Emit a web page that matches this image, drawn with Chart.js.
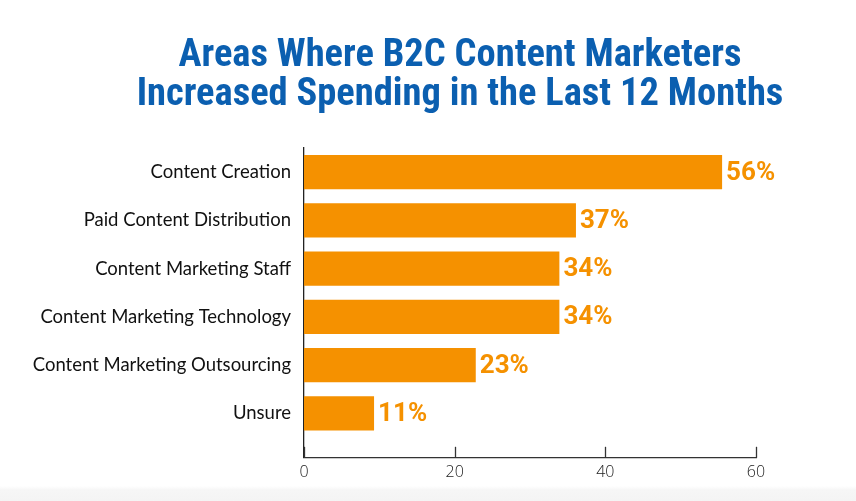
<!DOCTYPE html>
<html>
<head>
<meta charset="utf-8">
<script src="https://cdn.jsdelivr.net/npm/chart.js@4/dist/chart.umd.min.js"></script>
<style>
  html, body { margin: 0; padding: 0; }
  body { width: 856px; height: 501px; background: linear-gradient(to bottom, #ffffff 0px, #ffffff 486px, #f6f6f6 490px, #f4f4f4 501px); }
  #wrap { position: absolute; left: 0; top: 0; width: 856px; height: 501px; }
</style>
</head>
<body>
<div id="wrap"><canvas id="c" width="856" height="501"></canvas></div>
<script>
const titleLines = ["Areas Where B2C Content Marketers", "Increased Spending in the Last 12 Months"];
const categories = ["Content Creation", "Paid Content Distribution", "Content Marketing Staff", "Content Marketing Technology", "Content Marketing Outsourcing", "Unsure"];
const barValues = [55.5, 36.1, 33.9, 33.9, 22.8, 9.3];
const valueLabels = ["56%", "37%", "34%", "34%", "23%", "11%"];
const xTicks = [0, 20, 40, 60];

const ORANGE = "#f59100";
const BLUE = "#0b5fb0";

const titlePlugin = {
  id: "customTitle",
  afterDraw(chart) {
    const ctx = chart.ctx;
    ctx.save();
    ctx.font = "700 38.5px 'Liberation Sans Narrow', 'Roboto Condensed', 'DejaVu Sans Condensed', sans-serif";
    ctx.fillStyle = BLUE;
    ctx.textAlign = "center";
    ctx.textBaseline = "alphabetic";
    const cx = 460;
    ctx.fillText(titleLines[0], cx, 66);
    ctx.fillText(titleLines[1], cx, 105);
    ctx.restore();
  }
};

const valueLabelPlugin = {
  id: "valueLabels",
  afterDatasetsDraw(chart) {
    const ctx = chart.ctx;
    const meta = chart.getDatasetMeta(0);
    ctx.save();
    ctx.font = "700 26px Roboto, 'Open Sans', sans-serif";
    ctx.fillStyle = ORANGE;
    ctx.textAlign = "left";
    ctx.textBaseline = "middle";
    meta.data.forEach((bar, i) => {
      ctx.fillText(valueLabels[i], bar.x + 4, bar.y + 1);
    });
    ctx.restore();
  }
};

const innerTicksPlugin = {
  id: "innerTicks",
  afterDraw(chart) {
    const xs = chart.scales.x;
    const ctx = chart.ctx;
    const bottom = chart.chartArea.bottom;
    ctx.save();
    ctx.strokeStyle = "#333333";
    ctx.lineWidth = 1.3;
    xs.ticks.forEach(t => {
      const px = Math.round(xs.getPixelForValue(t.value)) + 0.5;
      ctx.beginPath();
      ctx.moveTo(px, bottom);
      ctx.lineTo(px, bottom - 11);
      ctx.stroke();
    });
    ctx.restore();
  }
};

new Chart(document.getElementById("c"), {
  type: "bar",
  data: {
    datasets: [{
      data: categories.map((c, i) => ({ x: barValues[i], y: i })),
      backgroundColor: ORANGE,
      borderWidth: 0,
      categoryPercentage: 1,
      barPercentage: 0.71
    }]
  },
  options: {
    indexAxis: "y",
    responsive: false,
    animation: false,
    layout: { padding: { left: 0, right: 100, top: 148, bottom: 14 } },
    plugins: {
      legend: { display: false },
      tooltip: { enabled: false },
      title: { display: false }
    },
    scales: {
      x: {
        type: "linear",
        min: 0,
        max: 60,
        afterBuildTicks: (s) => { s.ticks = xTicks.map(v => ({ value: v })); },
        grid: { display: false, drawTicks: false },
        border: { display: true, color: "#333333", width: 1.3 },
        ticks: { color: "#222222", padding: 5, font: { family: "'Open Sans', sans-serif", size: 16, weight: "300" } }
      },
      y: {
        type: "linear",
        reverse: true,
        offset: false,
        min: -0.5,
        max: 5.92,
        afterBuildTicks: (s) => { s.ticks = categories.map((c, i) => ({ value: i })); },
        afterFit: (s) => { s.width = 304; },
        grid: { display: false, drawTicks: false, offset: false },
        border: { display: true, color: "#222222", width: 1.3 },
        ticks: {
          color: "#111111",
          padding: 13,
          font: { family: "Lato, 'Open Sans', sans-serif", size: 18.5 },
          callback: (v) => categories[v]
        }
      }
    }
  },
  plugins: [titlePlugin, valueLabelPlugin, innerTicksPlugin]
});
</script>
</body>
</html>
